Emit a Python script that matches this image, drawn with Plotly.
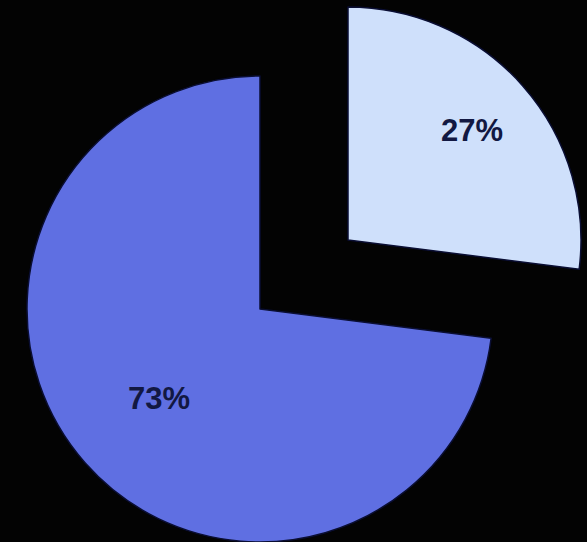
import math
import plotly.graph_objects as go

# Slice shares (percent) and fills, in drawing order (clockwise from 12 o'clock)
values = [27, 73]
slice_colors = ["#cfe0fb", "#5f6fe2"]
text_color = "#121842"

W, H = 587, 542
R = 233  # pie radius in px

# Each slice gets its own pie trace so the small slice can be pulled far out
# while the pie keeps a large radius; the other slice in each trace is hidden.
centers = [(348, 240), (260, 309)]  # px centre of each slice's pie
label_radius = [0.71, 0.58]         # label distance from centre, as a fraction of R


def domain_for(cx, cy):
    return dict(
        x=[(cx - R) / W, (cx + R) / W],
        y=[(H - (cy + R)) / H, (H - (cy - R)) / H],
    )


total = sum(values)
fig = go.Figure()
start = 0.0
for i, (cx, cy) in enumerate(centers):
    fills = ["rgba(0,0,0,0)"] * len(values)
    fills[i] = slice_colors[i]
    widths = [0] * len(values)
    widths[i] = 1.5
    fig.add_trace(
        go.Pie(
            values=values,
            sort=False,
            direction="clockwise",
            rotation=0,
            domain=domain_for(cx, cy),
            marker=dict(colors=fills, line=dict(color="#0a0e33", width=widths)),
            textinfo="none",
            showlegend=False,
            hoverinfo="skip",
        )
    )

    # percentage label at the slice's mid-angle
    span = 360.0 * values[i] / total
    mid = math.radians(start + span / 2)
    start += span
    lx = cx + math.sin(mid) * R * label_radius[i]
    ly = cy - math.cos(mid) * R * label_radius[i]
    fig.add_annotation(
        x=lx / W,
        y=1 - ly / H,
        xref="paper",
        yref="paper",
        xanchor="center",
        yanchor="middle",
        text=f"{round(100 * values[i] / total)}%",
        showarrow=False,
        font=dict(family="Liberation Sans, Arial, sans-serif", size=31, color=text_color, weight="bold"),
    )

fig.update_layout(
    width=W,
    height=H,
    margin=dict(l=0, r=0, t=0, b=0),
    paper_bgcolor="#030303",
    plot_bgcolor="#030303",
)

fig.write_html("out.html")
